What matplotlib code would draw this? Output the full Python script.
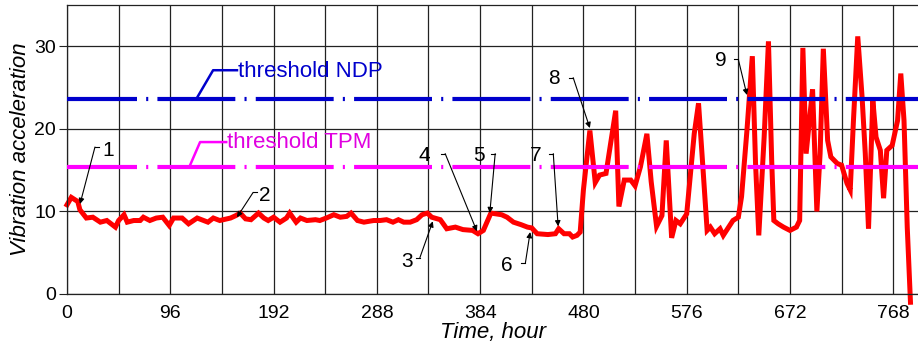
import numpy as np
import matplotlib
matplotlib.use('Agg')
import matplotlib.pyplot as plt

plt.rcParams['font.family'] = ['Liberation Sans', 'DejaVu Sans']

# vibration record (hour, acceleration)
hours = [0, 4, 10, 12, 18, 24, 31, 37, 45, 48, 53, 56, 62, 68, 71, 77, 83, 89, 95, 99,
         107, 113, 121, 127, 131, 136, 142, 152, 157, 161, 166, 171, 178, 183, 187, 192,
         198, 204, 207, 213, 217, 223, 231, 235, 241, 248, 254, 260, 264, 270, 276, 285,
         291, 297, 303, 308, 313, 319, 325, 330, 335, 339, 347, 353, 361, 368, 377, 382,
         387, 394, 404, 409, 415, 422, 428, 432, 437, 447, 454, 457, 462, 467, 470, 474,
         477, 480, 486, 491, 495, 501, 510, 513, 518, 524, 528, 533, 539, 543, 548, 553,
         557, 560, 562, 566, 570, 576, 583, 587, 590, 595, 598, 602, 607, 610, 615, 619,
         624, 627, 632, 637, 640, 643, 648, 652, 655, 657, 661, 666, 672, 678, 681, 684,
         687, 693, 697, 700, 703, 707, 710, 716, 720, 725, 728, 731, 735, 739, 742, 745,
         749, 752, 756, 759, 762, 767, 772, 775, 778, 781, 784]
accel = [10.8, 11.7, 11.2, 10.2, 9.2, 9.3, 8.7, 8.9, 8.1, 8.9, 9.6, 8.7, 8.9, 8.9, 9.3, 8.9,
         9.2, 9.3, 8.3, 9.2, 9.2, 8.5, 9.2, 8.9, 8.7, 9.2, 8.9, 9.2, 9.5, 9.8, 9.1, 9.0,
         9.8, 9.2, 8.9, 9.3, 8.7, 9.2, 9.8, 8.7, 9.2, 8.9, 9.0, 8.9, 9.2, 9.6, 9.3, 9.4,
         9.8, 8.9, 8.7, 8.9, 8.9, 9.0, 8.7, 9.0, 8.7, 8.7, 9.0, 9.6, 9.8, 9.3, 9.0, 7.9,
         8.1, 7.8, 7.7, 7.3, 7.7, 9.8, 9.6, 9.3, 8.7, 8.4, 8.1, 8.0, 7.3, 7.2, 7.3, 7.9,
         7.3, 7.3, 6.9, 7.1, 7.5, 12.6, 19.8, 13.5, 14.4, 14.6, 22.2, 10.6, 13.8, 13.8,
         13.1, 15.4, 19.4, 13.6, 8.2, 9.5, 18.6, 11.4, 6.8, 8.9, 8.5, 9.7, 19.4, 23.1,
         17.4, 7.7, 8.1, 7.3, 7.9, 7.1, 8.1, 8.9, 9.3, 11.8, 19.8, 28.8, 15.8, 7.1, 19.0,
         30.6, 16.2, 8.9, 8.5, 8.1, 7.7, 8.1, 8.9, 29.8, 17.0, 24.8, 10.0, 17.0, 29.7,
         18.6, 16.6, 15.8, 15.6, 13.4, 12.6, 21.0, 31.2, 23.9, 17.0, 7.9, 23.5, 19.0,
         17.4, 11.6, 17.4, 18.0, 21.0, 26.7, 21.0, 8.1, -1.0]

thr_ndp = 23.6
thr_tpm = 15.4

x_ticks = [0, 96, 192, 288, 384, 480, 576, 672, 768]
y_ticks = [0, 10, 20, 30]

# numbered marks: label, text pos, elbow, arrow tip
marks = [
    ('1', (38.1, 17.4), (26.0, 17.8), (12.1, 10.9)),
    ('2', (184, 11.9), (173, 12.3), (158, 9.3)),
    ('3', (316, 3.9), (328, 4.4), (340, 8.8)),
    ('4', (332, 16.8), (351.5, 17.0), (381, 7.6)),
    ('5', (383, 16.8), (398, 17.0), (393, 9.8)),
    ('6', (409, 3.5), (426, 3.7), (430.5, 7.5)),
    ('7', (436, 16.8), (452, 17.0), (456.5, 8.2)),
    ('8', (453, 26.1), (470.5, 26.2), (486, 20.1)),
    ('9', (608, 28.3), (624, 28.4), (632, 24.1)),
]

fig = plt.figure(figsize=(9.18, 3.52), dpi=100)
ax = fig.add_axes([67 / 918, 58 / 352, 1 - 67 / 918, 289 / 352])

ax.plot(hours, accel, color='#FF0000', lw=3.6, zorder=2, clip_on=False,
        solid_joinstyle='miter')

dash = (1.9, (18.7, 2.2, 0.5, 2.2))
ax.axhline(thr_ndp, color='#0000CC', lw=3, linestyle=dash, zorder=3)
ax.axhline(thr_tpm, color='#FF00FF', lw=3, linestyle=dash, zorder=3)

# threshold labels with leaders
ax.plot([158, 135.8, 121], [27.1, 27.1, 23.8], color='#0000CC', lw=1.8, zorder=4)
ax.text(159, 26.9, 'threshold NDP', color='#0000CC', fontsize=16, va='center', ha='left')
ax.plot([148, 123.7, 114.4], [18.4, 18.4, 15.6], color='#FF00FF', lw=1.8, zorder=4)
ax.text(148.8, 18.4, 'threshold TPM', color='#E000E0', fontsize=16, va='center', ha='left')

for lab, tpos, elbow, tip in marks:
    ax.text(tpos[0], tpos[1], lab, fontsize=15, ha='center', va='center', zorder=5)
    stub_x = elbow[0] + (4 if elbow[0] < tpos[0] else -4)
    ax.plot([stub_x, elbow[0]], [elbow[1], elbow[1]], color='black', lw=0.8, zorder=5)
    ax.annotate('', xy=tip, xytext=elbow,
                arrowprops=dict(arrowstyle='-|>', color='black', lw=0.8,
                                mutation_scale=8, shrinkA=0, shrinkB=0), zorder=5)

ax.set_xlim(0, 791)
ax.set_ylim(0, 35)
ax.set_xticks(x_ticks)
ax.set_xticks(np.arange(48, 791, 96), minor=True)
ax.set_yticks(y_ticks)
ax.grid(True, which='both', color='#222222', lw=0.9)
ax.set_axisbelow(True)
ax.tick_params(axis='x', which='both', length=0, labelsize=14, pad=8)
ax.tick_params(axis='y', length=6, labelsize=14, pad=2, color='#222222')
for s in ['left', 'bottom', 'top']:
    ax.spines[s].set_color('#222222')
    ax.spines[s].set_linewidth(0.9)
ax.spines['right'].set_visible(False)

ax.set_xlabel('Time, hour', fontsize=16, style='italic', labelpad=0)
ax.set_ylabel('Vibration acceleration', fontsize=16, style='italic', labelpad=2)

fig.savefig('out.png', dpi=100)
